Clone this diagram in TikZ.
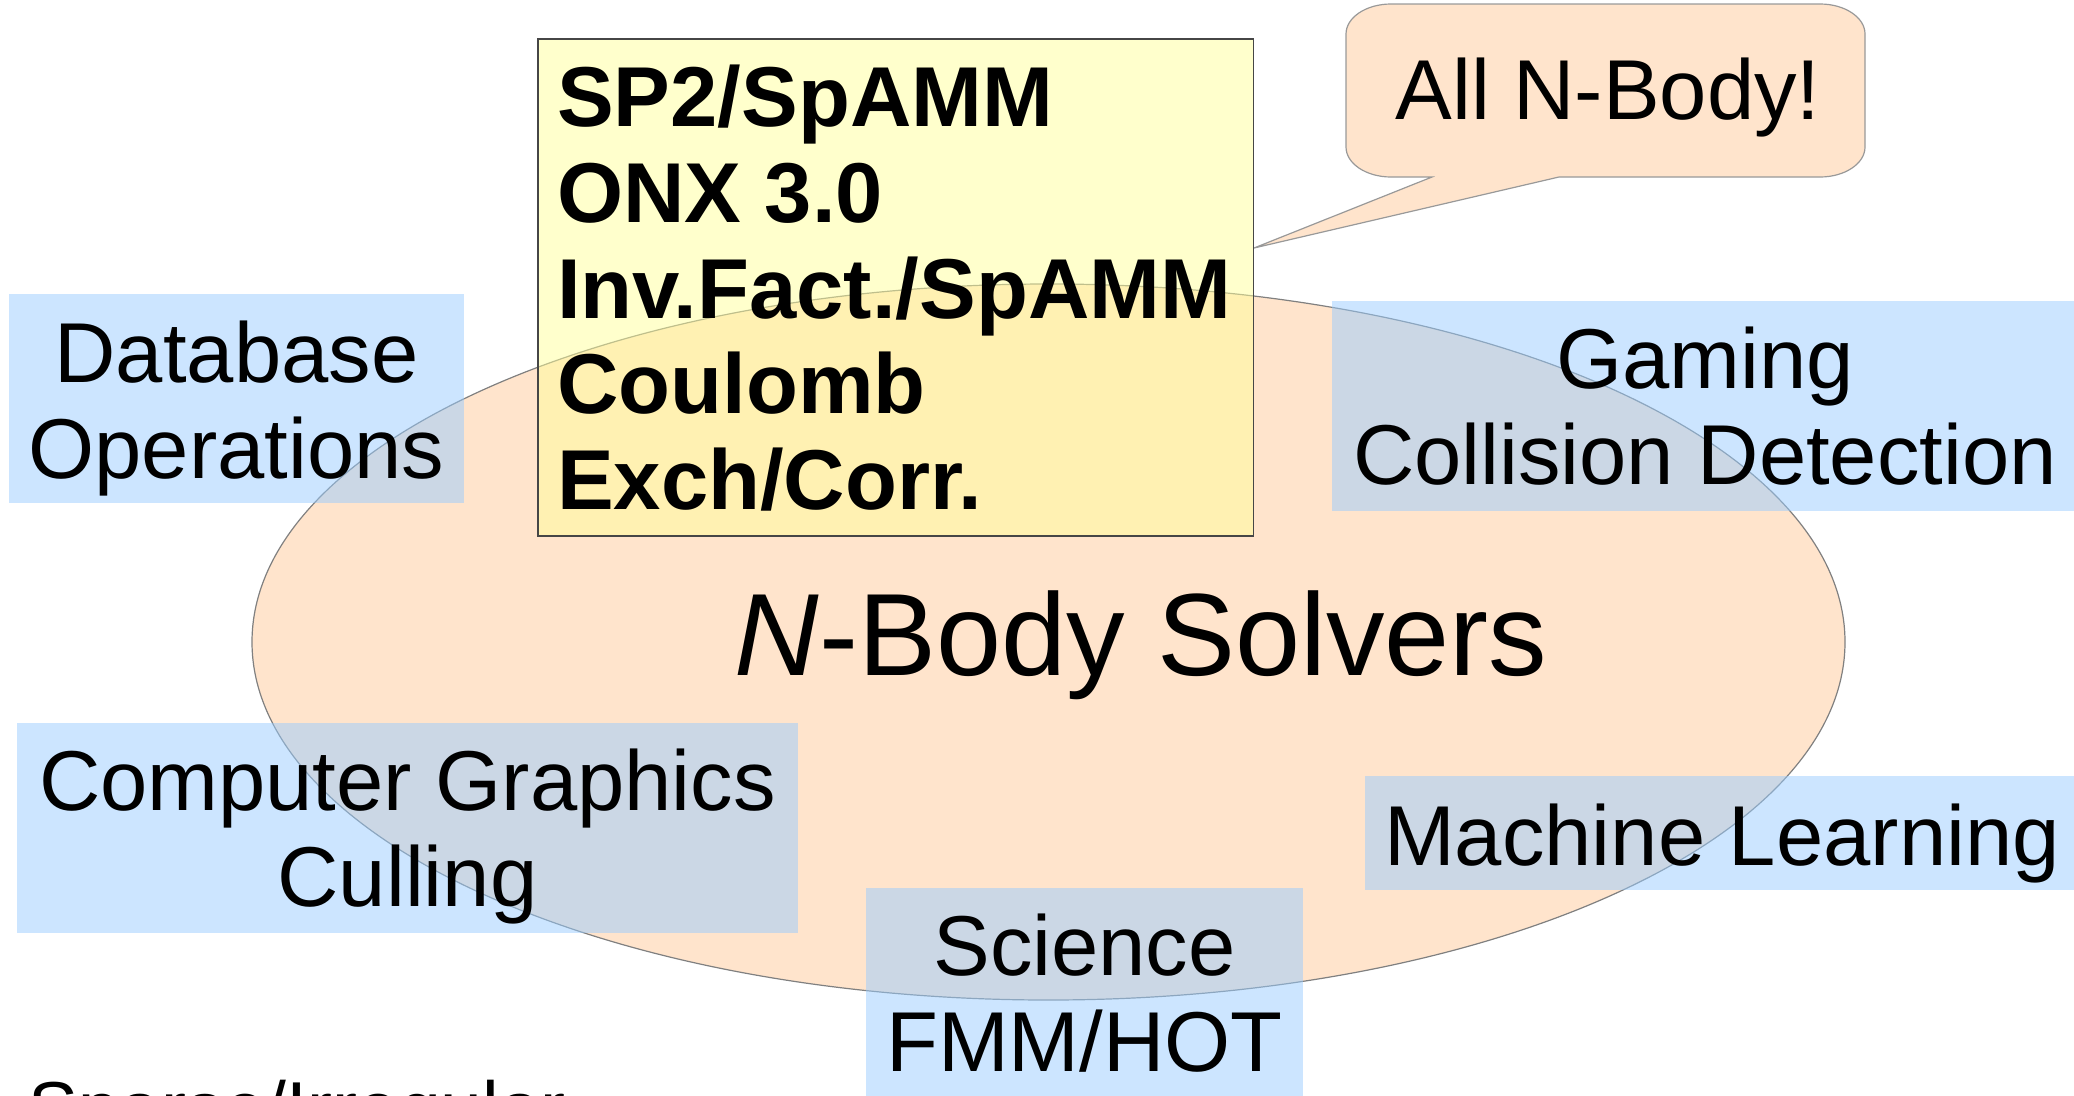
\documentclass[tikz,border=0pt]{standalone}
\usepackage{fontspec}
\setmainfont{Liberation Sans}
\usetikzlibrary{shapes.geometric}
\definecolor{peach}{RGB}{255,228,204}
\definecolor{skyb}{RGB}{153,204,255}
\definecolor{lemon}{RGB}{255,255,153}
\definecolor{edgegray}{RGB}{128,128,128}
\definecolor{boxedge}{RGB}{70,70,70}
\begin{document}
\begin{tikzpicture}[x=1pt,y=-1pt,
  blubox/.style={fill=skyb, fill opacity=0.5, draw=none, inner sep=0pt, rectangle},
  lbl/.style={font=\fontsize{85}{96}\selectfont, inner sep=0pt, anchor=base},
  ylbl/.style={font=\fontsize{85}{96}\selectfont\bfseries, inner sep=0pt, anchor=base west},
  bigl/.style={font=\fontsize{117}{130}\selectfont, inner sep=0pt, anchor=base}]
\useasboundingbox (0,0) rectangle (2074,1095);
\clip (0,0) rectangle (2074,1095);
% central ellipse
\node[ellipse, fill=peach, draw=edgegray, line width=1.2pt, inner sep=0pt,
      minimum width=1593pt, minimum height=716pt] (ell) at (1048.5,642) {};
% callout
\coordinate (tip) at (1254,248);
\draw[fill=peach, draw=edgegray!80, line width=1.2pt]
  (1391,4) -- (1820,4)
  .. controls (1844.85,4) and (1865,17.43) .. (1865,34)
  -- (1865,147)
  .. controls (1865,163.57) and (1844.85,177) .. (1820,177)
  -- (1559,177) -- (tip) -- (1432,177) -- (1391,177)
  .. controls (1366.15,177) and (1346,163.57) .. (1346,147)
  -- (1346,34)
  .. controls (1346,17.43) and (1366.15,4) .. (1391,4) -- cycle;
% yellow box
\node[rectangle, fill=lemon, fill opacity=0.5, draw=boxedge, draw opacity=1,
      line width=1.5pt, inner sep=0pt, minimum width=715.5pt, minimum height=497pt]
      (ybox) at (895.75,287.5) {};
% blue boxes
\node[blubox, minimum width=455pt, minimum height=209pt] (dbbox) at (236.5,398.5) {};
\node[blubox, minimum width=746pt, minimum height=210pt] (gmbox) at (1705,406) {};
\node[blubox, minimum width=781pt, minimum height=210pt] (cgbox) at (407.5,828) {};
\node[blubox, minimum width=714pt, minimum height=114pt] (mlbox) at (1722,833) {};
\node[blubox, minimum width=437pt, minimum height=210pt] (scbox) at (1084.5,993) {};
% texts
\node[bigl] (nbody) at (1141,675) {\textit{N}-Body Solvers};
\node[lbl] (callt) at (1608,119) {All N-Body!};
\node[ylbl] (y1) at (557,126.7) {SP2/SpAMM};
\node[ylbl] (y2) at (557,222.4) {ONX 3.0};
\node[ylbl] (y3) at (557,318.0) {Inv.Fact./SpAMM};
\node[ylbl] (y4) at (557,413.7) {Coulomb};
\node[ylbl] (y5) at (557,509.3) {Exch/Corr.};
\node[lbl] (db1) at (236.5,382) {Database};
\node[lbl] (db2) at (236.5,478) {Operations};
\node[lbl] (gm1) at (1705,388) {Gaming};
\node[lbl] (gm2) at (1705,484) {Collision Detection};
\node[lbl] (cg1) at (407.5,810) {Computer Graphics};
\node[lbl] (cg2) at (407.5,906) {Culling};
\node[lbl] (ml1) at (1722,865) {Machine Learning};
\node[lbl] (sc1) at (1084.5,975) {Science};
\node[lbl] (sc2) at (1084.5,1071) {FMM/HOT};
\node[font=\fontsize{75}{84}\selectfont, inner sep=0pt, anchor=base west] (sp) at (28,1134) {Sparse/Irregular};
\end{tikzpicture}
\end{document}
